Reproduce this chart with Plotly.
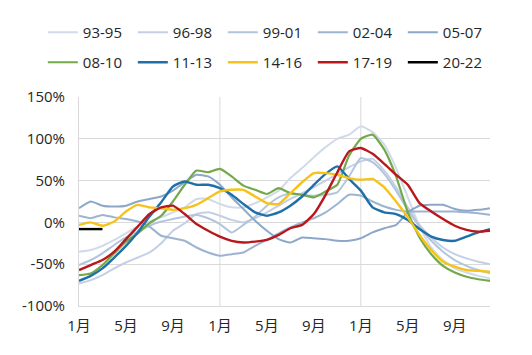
import plotly.graph_objects as go

months = list(range(36))
tick_vals = [0, 4, 8, 12, 16, 20, 24, 28, 32]
tick_text = ["1月", "5月", "9月", "1月", "5月", "9月", "1月", "5月", "9月"]
y_ticks = [-100, -50, 0, 50, 100, 150]
y_text = ["-100%", "-50%", "0%", "50%", "100%", "150%"]

names = ["93-95", "96-98", "99-01", "02-04", "05-07",
         "08-10", "11-13", "14-16", "17-19", "20-22"]

s9395 = [-35, -33, -28, -21, -13, -5, 1, 6, 12, 18, 28, 28, 22, 18, 18, 23, 30, 38,
         53, 65, 78, 90, 100, 105, 115, 108, 93, 65, 30, -5, -30, -45, -55, -60, -64, -67]
s9698 = [-73, -69, -63, -55, -48, -42, -36, -25, -10, -1, 10, 12, 8, 3, 0, 5, 12, 20,
         28, 35, 42, 50, 58, 66, 73, 76, 62, 42, 18, -3, -18, -30, -38, -43, -47, -50]
s9901 = [-51, -45, -37, -27, -18, -11, -4, 1, 4, 7, 9, 5, -2, -12, -3, 7, 20, 30,
         35, 33, 32, 33, 36, 55, 77, 72, 58, 38, 15, -5, -22, -35, -45, -52, -57, -61]
s0204 = [8, 5, 9, 6, 4, 1, -5, -16, -19, -22, -30, -36, -40, -38, -36, -28, -21, -13,
         -6, 0, 5, 12, 22, 33, 32, 25, 19, 15, 13, 13, 13, 13, 13, 12, 11, 9]
s0507 = [17, 25, 20, 19, 20, 25, 28, 31, 38, 48, 57, 55, 45, 30, 16, 2, -10, -20,
         -24, -18, -19, -20, -22, -22, -19, -12, -7, -3, 12, 20, 21, 21, 16, 14, 15, 17]
s0810 = [-63, -61, -51, -37, -23, -13, -1, 8, 25, 45, 62, 60, 64, 55, 44, 39, 34, 41,
         35, 33, 30, 37, 45, 80, 100, 105, 87, 55, 12, -18, -38, -52, -60, -65, -68, -70]
s1113 = [-70, -64, -55, -42, -28, -12, 7, 24, 43, 49, 45, 45, 41, 33, 22, 12, 8, 12,
         20, 31, 45, 58, 67, 52, 38, 18, 12, 10, 3, -8, -17, -21, -22, -17, -12, -8]
s1416 = [-3, 0, -4, 1, 13, 21, 18, 17, 15, 17, 21, 29, 37, 39, 39, 31, 23, 22,
         35, 48, 59, 59, 57, 53, 51, 52, 42, 25, 6, -15, -33, -47, -53, -57, -58, -59]
s1719 = [-57, -51, -45, -35, -20, -5, 10, 18, 20, 10, -2, -10, -17, -22, -24, -23, -21, -15,
         -7, -3, 10, 33, 60, 85, 89, 82, 70, 57, 45, 23, 13, 4, -4, -9, -11, -10]
s2022 = [-8, -8, -8]

series = [s9395, s9698, s9901, s0204, s0507, s0810, s1113, s1416, s1719, s2022]
colors = ["#d0dbea", "#c4cfe6", "#b2c5dc", "#9db4d1", "#8ca8c9",
          "#73a84b", "#1f6fa8", "#f6c31a", "#b8171c", "#000000"]
widths = [2, 2, 2, 2, 2, 2.2, 2.4, 2.4, 2.4, 2.4]

fig = go.Figure()
for i, (nm, ys) in enumerate(zip(names, series)):
    fig.add_trace(go.Scatter(
        x=months[:len(ys)], y=ys, name=nm, mode="lines",
        line=dict(color=colors[i], width=widths[i], shape="spline", smoothing=0.5),
        legend="legend" if i < 5 else "legend2",
    ))

font_fam = "Open Sans, Noto Sans CJK SC, sans-serif"
grid = "#d9d9d9"
fig.update_layout(
    width=532, height=355,
    margin=dict(l=71, r=50, t=89, b=57, autoexpand=False),
    paper_bgcolor="white", plot_bgcolor="white",
    font=dict(family=font_fam, size=15, color="#262626"),
    legend=dict(orientation="h", x=-0.088, y=1.309, xanchor="left", yanchor="middle",
                entrywidth=45, entrywidthmode="pixels", bgcolor="rgba(0,0,0,0)",
                font=dict(size=15)),
    legend2=dict(orientation="h", x=-0.088, y=1.165, xanchor="left", yanchor="middle",
                 entrywidth=45, entrywidthmode="pixels", bgcolor="rgba(0,0,0,0)",
                 font=dict(size=15)),
    xaxis=dict(range=[0, 35], tickvals=tick_vals, ticktext=tick_text,
               showgrid=False, zeroline=False, showline=True, linecolor=grid,
               linewidth=1, ticks="", ticklabelstandoff=6),
    yaxis=dict(range=[-100, 150], tickvals=y_ticks, ticktext=y_text,
               showgrid=True, gridcolor=grid, gridwidth=1, zeroline=False,
               showline=True, linecolor=grid, linewidth=1, ticks="",
               ticklabelstandoff=10),
    shapes=[dict(type="line", xref="x", yref="paper", x0=v, x1=v, y0=0, y1=1,
                 line=dict(color=grid, width=1), layer="below") for v in [12, 24]],
)

fig.write_html("out.html")
